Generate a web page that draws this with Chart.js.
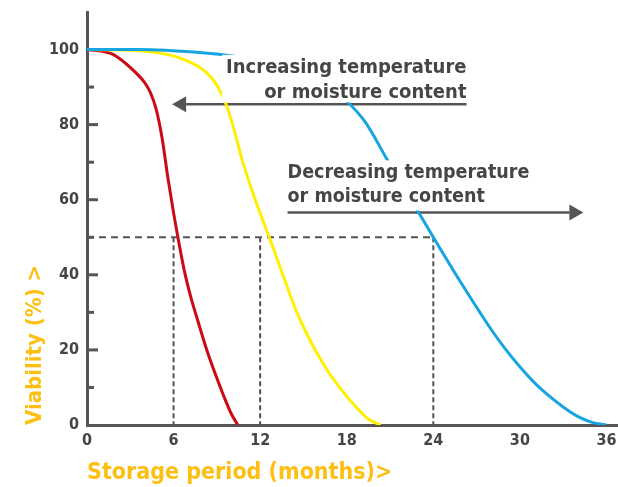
<!DOCTYPE html>
<html><head><meta charset="utf-8">
<script src="https://cdn.jsdelivr.net/npm/chart.js@4.4.1/dist/chart.umd.min.js"></script>
<style>html,body{margin:0;padding:0;background:#fff;}#wrap{width:618px;height:487px;position:relative;}</style>
</head><body><div id="wrap"><canvas id="c" width="618" height="487"></canvas></div>
<script>
const xTicks = [0, 6, 12, 18, 24, 30, 36];
const yTicks = [0, 20, 40, 60, 80, 100];
const yMinorTicks = [10, 30, 50, 70, 90];

const redMonths = [0, 1.8, 3.6, 4.0, 4.4, 4.8, 5.2, 5.6, 6.0, 6.3, 6.75, 7.2, 7.7, 8.3, 8.9, 9.5, 10.0, 10.45];
const redValues = [100, 98.7, 93, 91.2, 88.5, 84, 76.5, 66, 56.5, 50, 41, 34, 27.5, 20, 13.5, 7.5, 3, 0];

const yellowMonths = [0, 4.2, 6.75, 8.55, 9.5, 10.05, 10.8, 11.8, 12.63, 13.5, 14.5, 15.6, 16.3, 17.0, 18.1, 19.5, 20.35];
const yellowValues = [100, 99.5, 97.3, 92.8, 86.8, 80.6, 70, 58.5, 50, 40.8, 30.4, 21.5, 16.8, 12.6, 7.2, 1.6, 0];

const blueMonths = [0, 3.6, 7.8, 10.5, 13.1, 15.6, 16.9, 18.1, 19.3, 20.8, 22.85, 24, 25.9, 28, 29, 30, 31, 32, 33, 34, 35, 36];
const blueValues = [100, 100, 99.2, 98.1, 96.5, 92.6, 89.8, 85.9, 80.6, 70.7, 57.5, 50, 38, 25.5, 20.2, 15.5, 11.3, 7.8, 4.8, 2.3, 0.7, 0];

const halfViability = 50;
const halfMonths = [6, 12, 24];

const label1 = ['Increasing temperature', 'or moisture content'];
const label2 = ['Decreasing temperature', 'or moisture content'];
// annotation anchors in data units (months, %)
const arrow1 = {y: 85.4, from: 26.3, to: 5.9};
const arrow2 = {y: 56.6, from: 13.9, to: 34.4};
const text1 = {x: 26.3, y: [93.8, 87.2], align: 'right', size: 20};
const text2 = {x: 13.9, y: [65.7, 59.3], align: 'left', size: 19.5};

const FONT = "'DejaVu Sans Condensed','Liberation Sans Narrow',sans-serif";
const AXIS = '#555555';
const TXT = '#454545';
const TITLE = '#FDBF12';

function pts(xs, ys) { return xs.map((v, i) => ({x: v, y: ys[i]})); }

const datasets = [
  {data: pts(blueMonths, blueValues), borderColor: '#17A5E2', borderWidth: 3},
  {data: pts(yellowMonths, yellowValues), borderColor: '#FFF000', borderWidth: 3},
  {data: pts(redMonths, redValues), borderColor: '#CC0A16', borderWidth: 3},
].map(d => Object.assign(d, {pointRadius: 0, fill: false, cubicInterpolationMode: 'monotone'}));

datasets.push({data: [{x: 0, y: halfViability}, {x: Math.max(...halfMonths), y: halfViability}],
  borderColor: AXIS, borderWidth: 2, borderDash: [7, 5], pointRadius: 0, fill: false, tension: 0});
halfMonths.forEach(m => datasets.push({data: [{x: m, y: halfViability}, {x: m, y: 0}],
  borderColor: AXIS, borderWidth: 2, borderDash: [5, 3], pointRadius: 0, fill: false, tension: 0}));

function drawArrow(ctx, x1, x2, y) {
  ctx.save();
  ctx.strokeStyle = AXIS; ctx.fillStyle = AXIS; ctx.lineWidth = 2.5;
  const dir = x2 > x1 ? 1 : -1;
  const headLen = 14, half = 8;
  ctx.beginPath(); ctx.moveTo(x1, y); ctx.lineTo(x2 - dir * headLen, y); ctx.stroke();
  ctx.beginPath(); ctx.moveTo(x2, y); ctx.lineTo(x2 - dir * headLen, y - half); ctx.lineTo(x2 - dir * headLen, y + half); ctx.closePath(); ctx.fill();
  ctx.restore();
}

function drawLabel(ctx, lines, anchor, arrowY, xs, ys) {
  ctx.save();
  ctx.font = 'bold ' + anchor.size + 'px ' + FONT;
  const w = Math.max(...lines.map(l => ctx.measureText(l).width));
  const ax = xs.getPixelForValue(anchor.x);
  const b1 = ys.getPixelForValue(anchor.y[0]);
  const left = anchor.align === 'right' ? ax - w : ax;
  ctx.fillStyle = '#ffffff';
  ctx.fillRect(left - 4, b1 - 18, w + 7, ys.getPixelForValue(arrowY) - 2 - (b1 - 18));
  ctx.fillStyle = TXT;
  ctx.textAlign = anchor.align;
  ctx.textBaseline = 'alphabetic';
  lines.forEach((l, i) => ctx.fillText(l, ax, ys.getPixelForValue(anchor.y[i])));
  ctx.restore();
}

const annot = {
  id: 'annot',
  beforeDatasetsDraw(chart) {
    const {ctx, chartArea, scales: {x, y}} = chart;
    ctx.save();
    ctx.strokeStyle = AXIS; ctx.lineWidth = 3;
    yTicks.concat(yMinorTicks).forEach(v => {
      if (v === 0) return;
      const py = y.getPixelForValue(v);
      const len = yMinorTicks.includes(v) ? 7 : 11;
      ctx.beginPath(); ctx.moveTo(chartArea.left - 1, py); ctx.lineTo(chartArea.left + len, py); ctx.stroke();
    });
    ctx.restore();
    drawArrow(ctx, x.getPixelForValue(arrow1.from), x.getPixelForValue(arrow1.to), y.getPixelForValue(arrow1.y));
    drawArrow(ctx, x.getPixelForValue(arrow2.from), x.getPixelForValue(arrow2.to), y.getPixelForValue(arrow2.y));
  },
  afterDatasetsDraw(chart) {
    const {ctx, scales: {x, y}} = chart;
    drawLabel(ctx, label1, text1, arrow1.y, x, y);
    drawLabel(ctx, label2, text2, arrow2.y, x, y);
  }
};

new Chart(document.getElementById('c'), {
  type: 'line',
  data: {datasets},
  plugins: [annot],
  options: {
    responsive: false, animation: false, devicePixelRatio: 1,
    layout: {padding: {top: 12, left: 0, right: 0, bottom: 0}},
    plugins: {legend: {display: false}, tooltip: {enabled: false}},
    scales: {
      x: {
        type: 'linear', min: 0, max: 36.8,
        afterBuildTicks: s => { s.ticks = xTicks.map(v => ({value: v})); },
        afterFit: s => { s.height = 62; s.paddingLeft = 0; s.paddingRight = 0; },
        grid: {display: false, drawTicks: false},
        border: {display: true, color: AXIS, width: 3},
        ticks: {color: TXT, font: {family: FONT, size: 16, weight: 'bold'}, padding: 6, maxRotation: 0, autoSkip: false},
        title: {display: true, text: 'Storage period (months)>', align: 'start', color: TITLE,
          font: {family: FONT, size: 23, weight: 'bold'}, padding: {top: 0, bottom: 0}}
      },
      y: {
        type: 'linear', min: 0, max: 110,
        afterBuildTicks: s => { s.ticks = yTicks.map(v => ({value: v})); },
        afterFit: s => { s.width = 87; s.paddingTop = 0; s.paddingBottom = 0; },
        grid: {display: false, drawTicks: false},
        border: {display: true, color: AXIS, width: 3},
        ticks: {color: TXT, font: {family: FONT, size: 16, weight: 'bold'}, padding: 8},
        title: {display: true, text: 'Viability (%) >', align: 'start', color: TITLE,
          font: {family: FONT, size: 22, weight: 'bold'}, padding: {top: 22, bottom: 0}}
      }
    }
  }
});
</script></body></html>
